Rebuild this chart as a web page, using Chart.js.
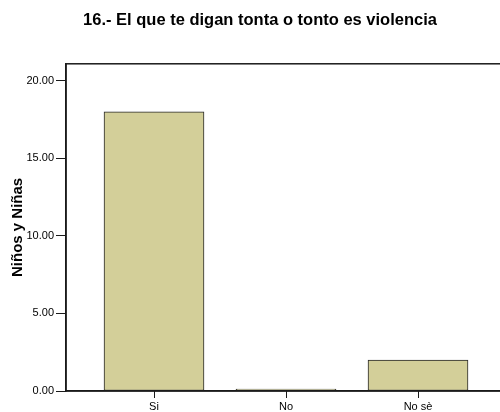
<!DOCTYPE html>
<html>
<head>
<meta charset="utf-8">
<script src="https://cdn.jsdelivr.net/npm/chart.js@4"></script>
<style>
  html, body { margin: 0; padding: 0; background: #fff; overflow: hidden; }
  #wrap { width: 520px; height: 412px; }
</style>
</head>
<body>
<div id="wrap"><canvas id="violenciaChart"></canvas></div>
<script>
  const categories = ['Si', 'No', 'No s\u00e8'];
  const counts = [18, 0, 2];
  const yTicks = [0, 5, 10, 15, 20];

  const ink = '#1a1a1a';

  // marco del area del grafico y marcas bajo cada categoria
  const framePlugin = {
    id: 'frame',
    afterDraw(chart) {
      const a = chart.chartArea;
      const ctx = chart.ctx;
      const xs = chart.scales.x;
      ctx.save();
      ctx.strokeStyle = ink;
      ctx.lineWidth = 1.5;
      ctx.strokeRect(a.left, a.top, a.right - a.left - 8, a.bottom - a.top);
      ctx.lineWidth = 1;
      xs.ticks.forEach((t, i) => {
        const px = Math.round(xs.getPixelForTick(i)) + 0.5;
        ctx.beginPath();
        ctx.moveTo(px, a.bottom);
        ctx.lineTo(px, a.bottom + 7);
        ctx.stroke();
      });
      ctx.restore();
    }
  };

  function renderChart() {
    const ctx = document.getElementById('violenciaChart').getContext('2d');
    new Chart(ctx, {
      type: 'bar',
      data: {
        datasets: [{
          data: counts.map((v, i) => ({ x: i, y: v })),
          backgroundColor: '#d3cf99',
          borderColor: '#262626',
          borderWidth: 1,
          borderSkipped: false,
          barThickness: 100,
          minBarLength: 2
        }]
      },
      options: {
        responsive: true,
        maintainAspectRatio: false,
        animation: false,
        layout: { padding: 0 },
        plugins: {
          legend: { display: false },
          tooltip: { enabled: false },
          title: {
            display: true,
            text: '16.- El que te digan tonta o tonto es violencia',
            color: '#000',
            font: { family: 'Liberation Sans, Arial, sans-serif', size: 16.5, weight: 'bold' },
            padding: { top: 11, bottom: 33 }
          }
        },
        scales: {
          x: {
            type: 'linear',
            offset: false,
            min: -0.6667,
            max: 2.7727,
            afterBuildTicks: s => { s.ticks = categories.map((c, i) => ({ value: i })); },
            afterFit: s => { s.height = 21; },
            ticks: {
              callback: v => categories[v],
              color: '#000',
              padding: 2,
              maxRotation: 0,
              font: { family: 'Liberation Sans, Arial, sans-serif', size: 11 }
            },
            grid: { offset: false, drawOnChartArea: false, drawTicks: true, tickLength: 7, color: ink, tickColor: ink, tickWidth: 1 },
            border: { color: ink, width: 1.5 }
          },
          y: {
            min: 0,
            max: 21.1,
            afterBuildTicks: s => { s.ticks = yTicks.map(v => ({ value: v })); },
            afterFit: s => { s.width = 66; },
            ticks: {
              callback: v => v.toFixed(2),
              color: '#000',
              padding: 2,
              font: { family: 'Liberation Sans, Arial, sans-serif', size: 11 }
            },
            grid: { drawOnChartArea: false, tickLength: 10, color: ink, tickWidth: 1 },
            border: { color: ink, width: 1.5 },
            title: {
              display: true,
              text: 'Ni\u00f1os y Ni\u00f1as',
              color: '#000',
              font: { family: 'Liberation Sans, Arial, sans-serif', size: 15, weight: 'bold' },
              padding: { top: 9, bottom: 0 }
            }
          }
        }
      },
      plugins: [framePlugin]
    });
  }

  renderChart();
</script>
</body>
</html>
